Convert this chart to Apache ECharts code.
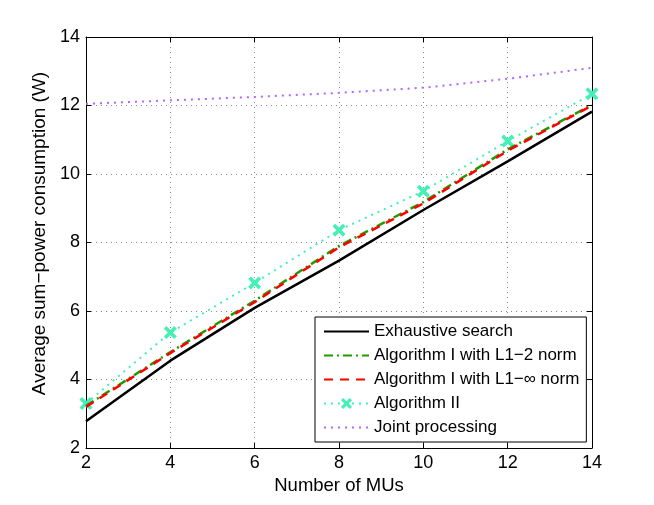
<!DOCTYPE html>
<html>
<head>
<meta charset="utf-8">
<script src="https://cdn.jsdelivr.net/npm/echarts@6/dist/echarts.min.js"></script>
<style>
  html, body { margin: 0; padding: 0; background: #fff; }
  #chart { width: 654px; height: 505px; }
</style>
</head>
<body>
<div id="chart"></div>
<script>
const mus = [2, 4, 6, 8, 10, 12, 14];
const exhaustive = [2.78, 4.55, 6.09, 7.47, 8.95, 10.37, 11.82];
const algL12 = [3.23, 4.8, 6.3, 7.9, 9.18, 10.72, 12.02];
const algL1inf = [3.2, 4.77, 6.26, 7.86, 9.14, 10.68, 12.0];
const alg2 = [3.3, 5.37, 6.82, 8.36, 9.5, 10.96, 12.34];
const joint = [12.05, 12.15, 12.25, 12.37, 12.52, 12.78, 13.1];
const xTicks = [2, 4, 6, 8, 10, 12, 14];
const yTicks = [2, 4, 6, 8, 10, 12, 14];

const pairs = ys => mus.map((x, i) => [x, ys[i]]);
const crossIcon = "path://M2,0L5,3L8,0L10,2L7,5L10,8L8,10L5,7L2,10L0,8L3,5L0,2Z";
const font = "Liberation Sans, Arial, Helvetica, sans-serif";

const chart = echarts.init(document.getElementById("chart"));

const gridLine = { show: true, lineStyle: { color: "#8a8a8a", type: [1, 4], width: 1 } };
const boxLine = { show: true, onZero: false, lineStyle: { color: "#000", width: 1 } };
const tick = { show: true, inside: true, length: 5, lineStyle: { color: "#000" } };
const noSymbol = { opacity: 0 };

const option = {
  animation: false,
  textStyle: { fontFamily: font },
  grid: { left: 86, right: 62, top: 37, bottom: 57, containLabel: false },
  xAxis: [
    {
      type: "value", min: xTicks[0], max: xTicks[xTicks.length - 1], interval: 2,
      name: "Number of MUs", nameLocation: "middle", nameGap: 28,
      nameTextStyle: { fontSize: 18.5, color: "#000", fontFamily: font },
      axisLine: boxLine, axisTick: tick,
      axisLabel: { fontSize: 18, color: "#000", margin: 6, fontFamily: font },
      splitLine: gridLine
    },
    {
      type: "value", position: "top", min: 2, max: 14, interval: 2,
      axisLine: boxLine, axisTick: tick,
      axisLabel: { show: false }, splitLine: { show: false }
    }
  ],
  yAxis: [
    {
      type: "value", min: yTicks[0], max: yTicks[yTicks.length - 1], interval: 2,
      name: "Average sum\u2212power consumption (W)", nameLocation: "middle", nameGap: 35,
      nameTextStyle: { fontSize: 19, color: "#000", fontFamily: font, padding: [0, 0, 0, 18] },
      axisLine: boxLine, axisTick: tick,
      axisLabel: { fontSize: 18, color: "#000", margin: 6, fontFamily: font },
      splitLine: gridLine
    },
    {
      type: "value", position: "right", min: 2, max: 14, interval: 2,
      axisLine: boxLine, axisTick: tick,
      axisLabel: { show: false }, splitLine: { show: false }
    }
  ],
  legend: {
    orient: "vertical", left: 315, top: 317,
    padding: [6, 7, 6, 8], itemGap: 7, itemWidth: 45, itemHeight: 14,
    borderColor: "#000", borderWidth: 1, backgroundColor: "#fff",
    textStyle: { fontSize: 17, lineHeight: 16, color: "#000", fontFamily: font },
    data: [
      { name: "Exhaustive search", itemStyle: noSymbol },
      { name: "Algorithm I with L1\u22122 norm", itemStyle: noSymbol },
      { name: "Algorithm I with L1\u2212\u221e norm", itemStyle: noSymbol },
      { name: "Algorithm II" },
      { name: "Joint processing", itemStyle: noSymbol }
    ]
  },
  series: [
    {
      name: "Exhaustive search", type: "line", data: pairs(exhaustive),
      symbol: "none", lineStyle: { color: "#000", width: 2.5 }, itemStyle: { color: "#000" }, z: 3
    },
    {
      name: "Algorithm I with L1\u22122 norm", type: "line", data: pairs(algL12),
      symbol: "none", lineStyle: { color: "#1f9b00", width: 2.5, type: [9, 4, 2, 4] }, itemStyle: { color: "#1f9b00" }, z: 4
    },
    {
      name: "Algorithm I with L1\u2212\u221e norm", type: "line", data: pairs(algL1inf),
      symbol: "none", lineStyle: { color: "#ff0000", width: 2.5, type: [9, 7] }, itemStyle: { color: "#ff0000" }, z: 5
    },
    {
      name: "Algorithm II", type: "line", data: pairs(alg2),
      symbol: crossIcon, symbolSize: 13,
      lineStyle: { color: "#45f0b5", width: 2, type: [2, 5] }, itemStyle: { color: "#45f0b5" }, z: 2
    },
    {
      name: "Joint processing", type: "line", data: pairs(joint),
      symbol: "none", lineStyle: { color: "#b266ff", width: 2, type: [2, 5] }, itemStyle: { color: "#b266ff" }, z: 2
    }
  ]
};

chart.setOption(option);
</script>
</body>
</html>
